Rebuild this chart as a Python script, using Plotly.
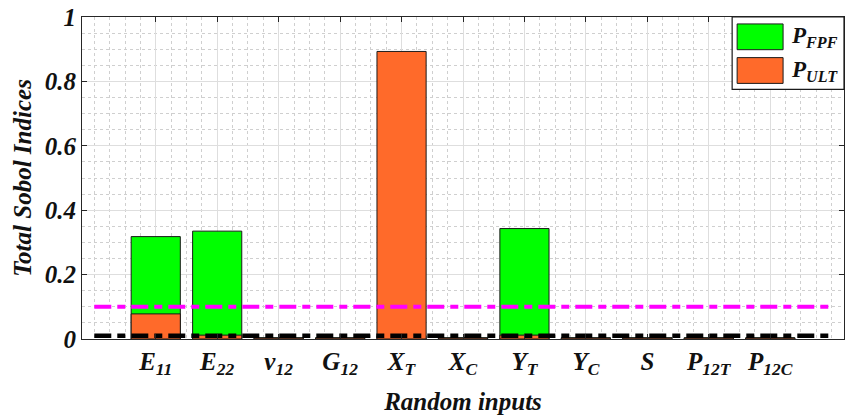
import plotly.graph_objects as go

categories = ["E<sub>11</sub>", "E<sub>22</sub>", "\u03bd<sub>12</sub>", "G<sub>12</sub>",
              "X<sub>T</sub>", "X<sub>C</sub>", "Y<sub>T</sub>", "Y<sub>C</sub>", "S",
              "P<sub>12T</sub>", "P<sub>12C</sub>"]
positions = [1, 2, 3, 4, 5, 6, 7, 8, 9, 10, 11]
p_fpf = [0.318, 0.335, 0.004, 0.004, 0.01, 0.004, 0.343, 0.004, 0.004, 0.004, 0.004]
p_ult = [0.078, 0.012, 0.003, 0.003, 0.893, 0.003, 0.012, 0.003, 0.003, 0.003, 0.003]
threshold_x = [0, 12]
threshold_hi = [0.1, 0.1]
threshold_lo = [0.01, 0.01]

GREEN = "#00FF00"
ORANGE = "#FF6A2A"
MAGENTA = "#FF00FF"
FONT = "Liberation Serif"
TXT = "#111111"

fig = go.Figure()
fig.add_trace(go.Bar(x=positions, y=p_fpf, width=0.8, name="P<sub>FPF</sub>",
                     marker=dict(color=GREEN, line=dict(color="#1a1a1a", width=1))))
fig.add_trace(go.Bar(x=positions, y=p_ult, width=0.8, name="P<sub>ULT</sub>",
                     marker=dict(color=ORANGE, line=dict(color="#1a1a1a", width=1))))
fig.add_trace(go.Scatter(x=threshold_x, y=threshold_hi, mode="lines",
                         line=dict(color=MAGENTA, width=4, dash="17px,6px,8px,6px"),
                         showlegend=False, hoverinfo="skip"))
fig.add_trace(go.Scatter(x=threshold_x, y=threshold_lo, mode="lines",
                         line=dict(color="black", width=4.5, dash="17px,6px,8px,6px"),
                         showlegend=False, hoverinfo="skip"))

tickfont = dict(family=FONT, size=25, color=TXT, weight="bold", style="italic")
titlefont = dict(family=FONT, size=25, color=TXT, weight="bold", style="italic")

fig.update_layout(
    width=849, height=419,
    margin=dict(l=82, r=4, t=14, b=80),
    barmode="overlay",
    plot_bgcolor="white", paper_bgcolor="white",
    showlegend=False,
    xaxis=dict(range=[-0.2, 12.2], tickvals=positions, ticktext=categories,
               tickfont=tickfont, ticks="inside", ticklen=5, tickcolor="#262626",
               showline=True, linecolor="#262626", linewidth=1, mirror="allticks",
               showgrid=True, gridcolor="#dedede", gridwidth=1, zeroline=False,
               minor=dict(tick0=0, dtick=0.25, showgrid=True, gridcolor="#cfcfcf",
                          griddash="dot", gridwidth=1),
               title=dict(text="Random inputs", standoff=14, font=titlefont)),
    yaxis=dict(range=[0, 1], dtick=0.2, tickfont=tickfont, ticks="inside", ticklen=5,
               tickcolor="#262626", showline=True, linecolor="#262626", linewidth=1,
               mirror="allticks", showgrid=True, gridcolor="#dedede", gridwidth=1,
               zeroline=False,
               minor=dict(dtick=0.05, showgrid=True, gridcolor="#cfcfcf",
                          griddash="dot", gridwidth=1),
               title=dict(text="Total Sobol Indices", standoff=6, font=titlefont)),
)

# Legend drawn as a box in the top-right corner
PX0, PW, PT, PH = 82, 763, 14, 325


def px(x):
    return (x - PX0) / PW


def py(y):
    return 1 - (y - PT) / PH


fig.add_shape(type="rect", xref="paper", yref="paper",
              x0=px(733), x1=1.0, y0=py(87), y1=1.0,
              line=dict(color="#1a1a1a", width=1.2), fillcolor="white", layer="above")
legend_items = [("P<sub>FPF</sub>", GREEN, 21, 47), ("P<sub>ULT</sub>", ORANGE, 55, 81)]
for text, col, ytop, ybot in legend_items:
    fig.add_shape(type="rect", xref="paper", yref="paper",
                  x0=px(738), x1=px(784), y0=py(ybot), y1=py(ytop),
                  line=dict(color="#1a1a1a", width=1), fillcolor=col, layer="above")
    fig.add_annotation(xref="paper", yref="paper", x=px(790),
                       y=py((ytop + ybot) / 2), xanchor="left", yanchor="middle",
                       text=text, showarrow=False,
                       font=dict(family=FONT, size=23, color=TXT,
                                 weight="bold", style="italic"))

fig.write_html("out.html", config={"displayModeBar": False},
               post_script="document.body.style.margin='0';")
